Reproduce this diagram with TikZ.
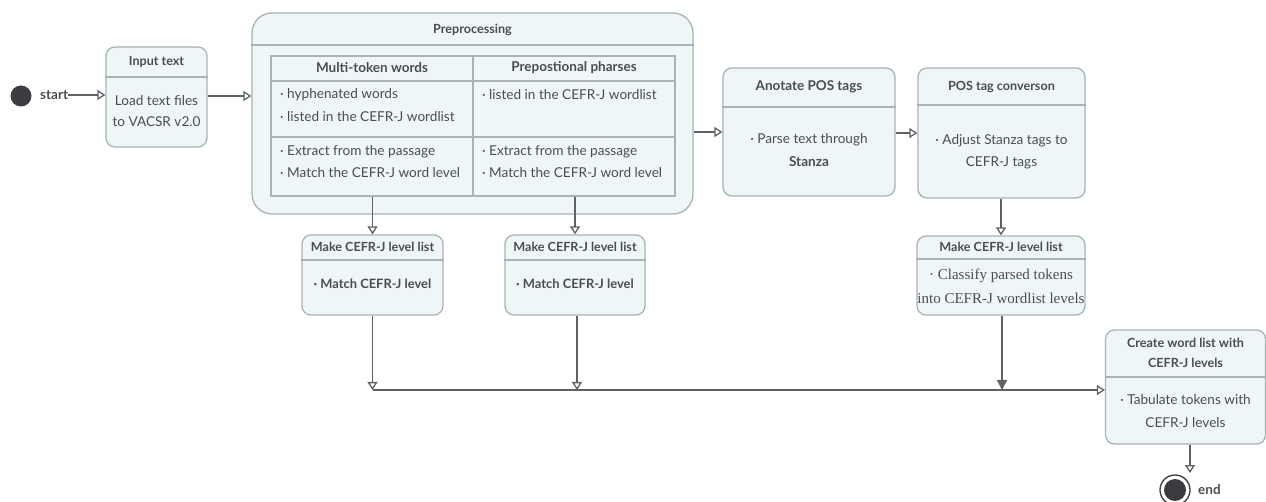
\documentclass[tikz,border=0pt]{standalone}
\usepackage{fontspec}
\setmainfont{Lato}
\newfontfamily\serifx{Liberation Serif}
\usetikzlibrary{arrows.meta}
\definecolor{boxfill}{HTML}{EFF6F8}
\definecolor{boxdraw}{HTML}{A9B2B7}
\definecolor{linec}{HTML}{5E6165}
\definecolor{txt}{HTML}{4A4D51}
\definecolor{dotc}{HTML}{3A3C3F}
\begin{document}
\begin{tikzpicture}[x=1pt,y=-1pt,
  box/.style={draw=boxdraw, fill=boxfill, line width=1.3pt, rounded corners=9pt, inner sep=0pt},
  divider/.style={draw=boxdraw, line width=1.3pt},
  conn/.style={draw=linec, line width=1.5pt},
  oarrow/.style={conn, -{Triangle[open, length=8pt, width=10pt, line width=1.3pt]}},
  farrow/.style={conn, -{Triangle[length=10pt, width=10pt]}},
  ttl/.style={text=txt, font=\bfseries\fontsize{12.6}{14}\selectfont, inner sep=0pt},
  bigttl/.style={text=txt, font=\bfseries\fontsize{13.5}{15}\selectfont, inner sep=0pt},
  body/.style={text=txt, font=\fontsize{13.6}{15}\selectfont, inner sep=0pt},
  bbody/.style={text=txt, font=\bfseries\fontsize{12.9}{15}\selectfont, inner sep=0pt},
  sbody/.style={text=txt, font=\serifx\fontsize{15}{17}\selectfont, inner sep=0pt},
]
\useasboundingbox (0,0) rectangle (1266,502);

% start
\node[circle, fill=dotc, minimum size=21pt, inner sep=0pt] (start) at (21,96) {};
\node[anchor=west, text=txt, font=\bfseries\fontsize{13.5}{15}\selectfont, inner sep=0pt] (startlbl) at (40,95) {start};

% Input text
\node[box, minimum width=101pt, minimum height=100pt] (input) at (156.5,97) {};
\draw[divider] (input.west |- 0,77) -- (input.east |- 0,77);
\node[ttl] (inputT) at (156.5,62) {Input text};
\node[body] (inputB1) at (156.5,101) {Load text files};
\node[body] (inputB2) at (156.5,122) {to VACSR v2.0};

% Preprocessing
\node[box, rounded corners=20pt, minimum width=441pt, minimum height=201pt] (pre) at (472.5,113.5) {};
\draw[divider] (pre.west |- 0,45) -- (pre.east |- 0,45);
\node[ttl] (preT) at (472.5,30) {Preprocessing};
\node[draw=boxdraw, line width=1.3pt, minimum width=404pt, minimum height=140pt, inner sep=0pt] (table) at (473,126) {};
\draw[divider] (table.north) -- (table.south);
\draw[divider] (table.west |- 0,81) -- (table.east |- 0,81);
\draw[divider] (table.west |- 0,137) -- (table.east |- 0,137);
\node[bigttl] (colA) at (372,68) {Multi-token words};
\node[bigttl] (colB) at (574,68) {Prepostional pharses};
\node[body, anchor=west] (a1) at (280,95) {· hyphenated words};
\node[body, anchor=west] (a2) at (280,117) {· listed in the CEFR-J wordlist};
\node[body, anchor=west] (b1) at (482,95) {· listed in the CEFR-J wordlist};
\node[body, anchor=west] (a3) at (280,152) {· Extract from the passage};
\node[body, anchor=west] (a4) at (280,173) {· Match the CEFR-J word level};
\node[body, anchor=west] (b3) at (482,152) {· Extract from the passage};
\node[body, anchor=west] (b4) at (482,173) {· Match the CEFR-J word level};

% Anotate POS tags
\node[box, minimum width=172pt, minimum height=128pt] (anot) at (809,132) {};
\draw[divider] (anot.west |- 0,107) -- (anot.east |- 0,107);
\node[bigttl] (anotT) at (809,87) {Anotate POS tags};
\node[body] (anotB1) at (809,140) {· Parse text through};
\node[text=txt, font=\bfseries\fontsize{13.6}{15}\selectfont, inner sep=0pt] (anotB2) at (809,162) {Stanza};

% POS tag conversion
\node[box, minimum width=167pt, minimum height=130pt] (conv) at (1001.5,133) {};
\draw[divider] (conv.west |- 0,105) -- (conv.east |- 0,105);
\node[ttl] (convT) at (1001.5,87) {POS tag converson};
\node[body] (convB1) at (1001.5,141) {· Adjust Stanza tags to};
\node[body] (convB2) at (1001.5,163) {CEFR-J tags};

% Make CEFR-J level list 1
\node[box, minimum width=141pt, minimum height=80pt] (mk1) at (372.5,275) {};
\draw[divider] (mk1.west |- 0,260) -- (mk1.east |- 0,260);
\node[ttl] (mk1T) at (372.5,247) {Make CEFR-J level list};
\node[bbody] (mk1B) at (372.5,284) {· Match CEFR-J level};

% Make CEFR-J level list 2
\node[box, minimum width=140pt, minimum height=80pt] (mk2) at (575,275) {};
\draw[divider] (mk2.west |- 0,260) -- (mk2.east |- 0,260);
\node[ttl] (mk2T) at (575,247) {Make CEFR-J level list};
\node[bbody] (mk2B) at (575,284) {· Match CEFR-J level};

% Make CEFR-J level list 3
\node[box, minimum width=168pt, minimum height=79pt] (mk3) at (1001,275.5) {};
\draw[divider] (mk3.west |- 0,259) -- (mk3.east |- 0,259);
\node[ttl] (mk3T) at (1001,247) {Make CEFR-J level list};
\node[sbody] (mk3B1) at (1001,276) {· Classify parsed tokens};
\node[sbody] (mk3B2) at (1001,298) {into CEFR-J wordlist levels};

% Create word list
\node[box, minimum width=160pt, minimum height=114pt] (create) at (1185.5,387) {};
\draw[divider] (create.west |- 0,377) -- (create.east |- 0,377);
\node[ttl] (crT1) at (1185.5,343) {Create word list with};
\node[ttl] (crT2) at (1185.5,363) {CEFR-J levels};
\node[body] (crB1) at (1185.5,400) {· Tabulate tokens with};
\node[body] (crB2) at (1185.5,423) {CEFR-J levels};

% end
\node[circle, draw=dotc, line width=1.3pt, fill=white, minimum size=30pt, inner sep=0pt] (endc) at (1175,490) {};
\node[circle, fill=dotc, minimum size=22pt, inner sep=0pt] (endi) at (1175,490) {};
\node[anchor=west, text=txt, font=\bfseries\fontsize{13.5}{15}\selectfont, inner sep=0pt] (endlbl) at (1198,490) {end};

% junctions
\coordinate (j1) at (372.5,390);
\coordinate (j2) at (577,390);
\coordinate (j3) at (1002,390);
\coordinate (endtop) at (1190,473);

% connectors
\draw[oarrow] (startlbl.east) -- (input.west |- startlbl.east);
\draw[oarrow] (input.east |- 0,96) -- (pre.west |- 0,96);
\draw[oarrow] (pre.east |- 0,132) -- (anot.west |- 0,132);
\draw[oarrow] (anot.east |- 0,133) -- (conv.west |- 0,133);
\draw[oarrow] (conv.south -| mk3.north) -- (mk3.north);
\draw[oarrow] (table.south -| mk1.north) -- (mk1.north);
\draw[oarrow] (table.south -| mk2.north) -- (mk2.north);
\draw[oarrow] (mk1.south) -- (j1);
\draw[oarrow] (mk2.south -| j2) -- (j2);
\draw[farrow] (mk3.south -| j3) -- (j3);
\draw[oarrow] (j1) -- (create.west |- j1);
\draw[oarrow] (create.south -| endtop) -- (endtop);
\end{tikzpicture}
\end{document}
